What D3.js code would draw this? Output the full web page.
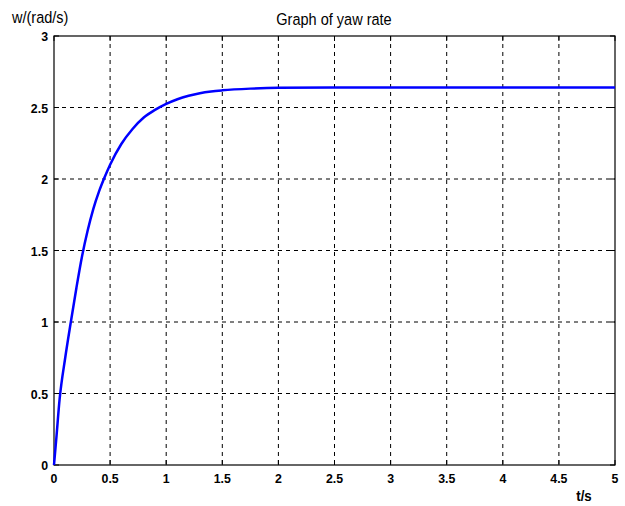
<!DOCTYPE html>
<html>
<head>
<meta charset="utf-8">
<script src="https://cdn.jsdelivr.net/npm/d3@7"></script>
<style>
    body { margin: 0; background: #fff; }
    .tick-lbl { font-family: "Liberation Sans", Arial, sans-serif; font-weight: bold; font-size: 13px; }
    .lbl { font-family: "Liberation Sans", Arial, sans-serif; font-size: 16.5px; }
</style>
</head>
<body>
<div id="chart"></div>
<script>
// yaw rate response
let timeValues = [0, 0.02, 0.05, 0.1, 0.15, 0.2, 0.25, 0.3, 0.35, 0.4, 0.45, 0.5, 0.6, 0.7, 0.8, 0.9, 1.0, 1.1, 1.2, 1.3, 1.4, 1.5, 1.75, 2.0, 2.5, 3.0, 4.0, 5.0];
let yawValues = [0, 0.18, 0.46, 0.75, 1.0, 1.24, 1.46, 1.64, 1.79, 1.91, 2.01, 2.1, 2.245, 2.35, 2.43, 2.483, 2.525, 2.558, 2.582, 2.6, 2.612, 2.62, 2.632, 2.638, 2.64, 2.64, 2.64, 2.64];
let xTicks = [0, 0.5, 1, 1.5, 2, 2.5, 3, 3.5, 4, 4.5, 5];
let xTickLabels = ["0", "0.5", "1", "1.5", "2", "2.5", "3", "3.5", "4", "4.5", "5"];
let yTicks = [0, 0.5, 1, 1.5, 2, 2.5, 3];
let yTickLabels = ["0", "0.5", "1", "1.5", "2", "2.5", "3"];

function narrowText(svg, cls, px, py, anchor, str, sx) {
    return svg.append('text')
        .attr('class', cls)
        .attr('text-anchor', anchor)
        .attr('transform', 'translate(' + px + ',' + py + ') scale(' + sx + ',1)')
        .text(str);
}

function drawChart() {
    let svg = d3.select("#chart").append('svg')
        .attr('width', 625)
        .attr('height', 506);

    let left = 54, right = 615, top = 36, bottom = 465;
    let x = d3.scaleLinear().domain([0, 5]).range([left, right]);
    let y = d3.scaleLinear().domain([0, 3]).range([bottom, top]);

    // grid
    svg.append('g').selectAll('line')
        .data(xTicks.slice(1, -1))
        .enter().append('line')
        .attr('x1', d => x(d)).attr('x2', d => x(d))
        .attr('y1', top).attr('y2', bottom)
        .attr('stroke', '#000').attr('stroke-width', 1)
        .attr('stroke-dasharray', '4,4');
    svg.append('g').selectAll('line')
        .data(yTicks.slice(1, -1))
        .enter().append('line')
        .attr('x1', left).attr('x2', right)
        .attr('y1', d => y(d)).attr('y2', d => y(d))
        .attr('stroke', '#000').attr('stroke-width', 1)
        .attr('stroke-dasharray', '4,4');

    // frame
    svg.append('rect')
        .attr('x', left).attr('y', top)
        .attr('width', right - left).attr('height', bottom - top)
        .attr('fill', 'none').attr('stroke', '#000').attr('stroke-width', 1.2);

    // inward ticks
    let tk = 5;
    xTicks.forEach(d => {
        svg.append('line').attr('x1', x(d)).attr('x2', x(d)).attr('y1', bottom).attr('y2', bottom - tk).attr('stroke', '#000');
        svg.append('line').attr('x1', x(d)).attr('x2', x(d)).attr('y1', top).attr('y2', top + tk).attr('stroke', '#000');
    });
    yTicks.forEach(d => {
        svg.append('line').attr('x1', left).attr('x2', left + tk).attr('y1', y(d)).attr('y2', y(d)).attr('stroke', '#000');
        svg.append('line').attr('x1', right).attr('x2', right - tk).attr('y1', y(d)).attr('y2', y(d)).attr('stroke', '#000');
    });

    // tick labels
    xTicks.forEach((d, i) => narrowText(svg, 'tick-lbl', x(d), bottom + 18, 'middle', xTickLabels[i], 0.95));
    yTicks.forEach((d, i) => narrowText(svg, 'tick-lbl', left - 6, y(d) + 5, 'end', yTickLabels[i], 0.95));

    // curve
    let pts = timeValues.map((t, i) => [t, yawValues[i]]);
    let line = d3.line()
        .x(d => x(d[0]))
        .y(d => y(d[1]))
        .curve(d3.curveMonotoneX);
    svg.append('path')
        .datum(pts)
        .attr('d', line)
        .attr('fill', 'none')
        .attr('stroke', '#0000ff')
        .attr('stroke-width', 2.5);

    // labels
    narrowText(svg, 'lbl', 334, 25, 'middle', 'Graph of yaw rate', 0.88);
    narrowText(svg, 'lbl', 12, 23, 'start', 'w/(rad/s)', 0.88);
    narrowText(svg, 'tick-lbl', 584, 501, 'middle', 't/s', 0.95).style('font-size', '14px');
}

drawChart();
</script>
</body>
</html>
